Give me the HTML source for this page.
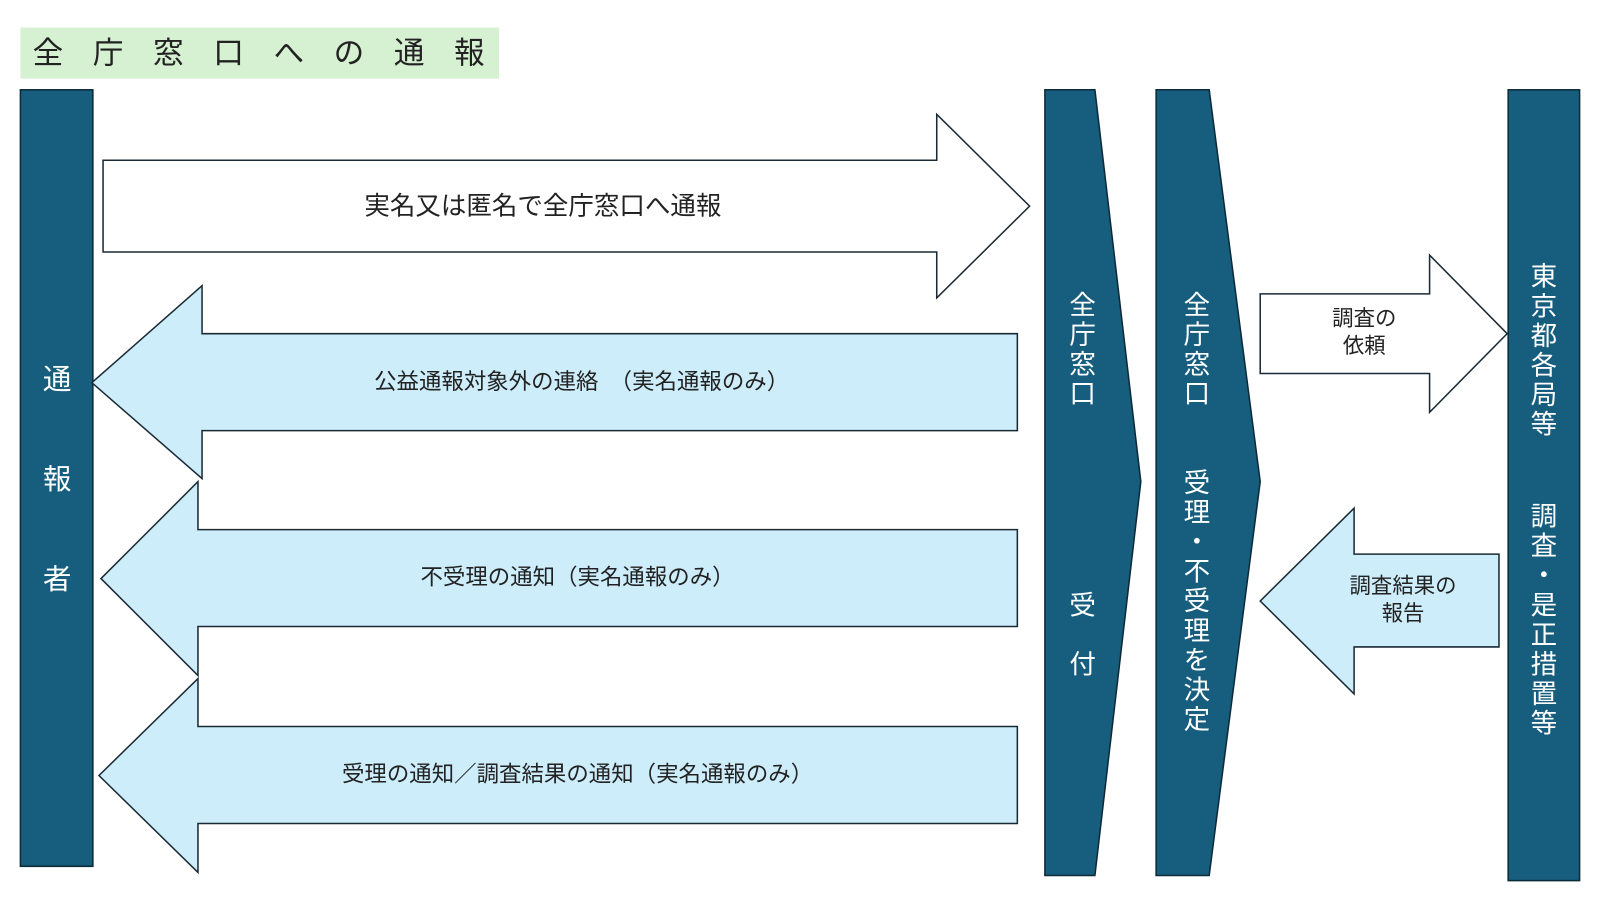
<!DOCTYPE html>
<html><head><meta charset="utf-8"><style>
html,body{margin:0;padding:0;background:#fff;}
svg{display:block;}
svg text{font-family:"Liberation Sans","Noto Sans CJK JP",sans-serif;}
</style></head><body>
<svg width="1600" height="900" viewBox="0 0 1568 882" xmlns="http://www.w3.org/2000/svg">
<rect x="20" y="27" width="469" height="50" fill="#d6f0d2"/>
<text x="32" y="62" font-size="30" fill="#222" letter-spacing="29">全庁窓口への通報</text>

<g fill="#175e7e" stroke="#0d2a38" stroke-width="1.5">
<rect x="20" y="88" width="71" height="761"/>
<polygon points="1024,88 1073,88 1118,472 1073,858 1024,858"/>
<polygon points="1133,88 1185,88 1235,472 1185,858 1133,858"/>
<rect x="1478" y="88" width="70" height="775"/>
</g>

<g stroke="#1a2a35" stroke-width="1.5">
<polygon fill="#fff" points="101,157 918,157 918,112 1009,202 918,292 918,247 101,247"/>
<polygon fill="#cdedfa" points="90,375 198,280 198,327 997,327 997,422 198,422 198,469"/>
<polygon fill="#cdedfa" points="99,567 194,472 194,519 997,519 997,614 194,614 194,662"/>
<polygon fill="#cdedfa" points="97,760 194,665 194,712 997,712 997,807 194,807 194,855"/>
<polygon fill="#fff" points="1235,288 1401,288 1401,250 1477,327 1401,404 1401,366 1235,366"/>
<polygon fill="#cdedfa" points="1235,589 1327,498 1327,543 1469,543 1469,634 1327,634 1327,680"/>
</g>

<g font-size="22" fill="#222" text-anchor="middle">
<text x="532" y="210" font-size="25">実名又は匿名で全庁窓口へ通報</text>
<text x="570" y="381">公益通報対象外の連絡　（実名通報のみ）</text>
<text x="566" y="573">不受理の通知（実名通報のみ）</text>
<text x="566" y="766">受理の通知／調査結果の通知（実名通報のみ）</text>
<text x="1337" y="319" font-size="21">調査の</text>
<text x="1337" y="346" font-size="21">依頼</text>
<text x="1375" y="581" font-size="21">調査結果の</text>
<text x="1375" y="608" font-size="21">報告</text>
</g>

<g font-size="28" fill="#fff" text-anchor="middle">
<text x="56" y="381">通</text>
<text x="56" y="479">報</text>
<text x="56" y="577">者</text>
</g>

<g font-size="26" fill="#fff" text-anchor="middle">
<text x="1061" y="308">全</text><text x="1061" y="337">庁</text><text x="1061" y="366">窓</text><text x="1061" y="395">口</text>
<text x="1061" y="602">受</text><text x="1061" y="660">付</text>

<text x="1173" y="308">全</text><text x="1173" y="337">庁</text><text x="1173" y="366">窓</text><text x="1173" y="395">口</text>
<text x="1173" y="482">受</text><text x="1173" y="511">理</text><text x="1173" y="540">・</text><text x="1173" y="569">不</text><text x="1173" y="598">受</text><text x="1173" y="627">理</text><text x="1173" y="656">を</text><text x="1173" y="685">決</text><text x="1173" y="714">定</text>

<text x="1513" y="280">東</text><text x="1513" y="309">京</text><text x="1513" y="338">都</text><text x="1513" y="367">各</text><text x="1513" y="396">局</text><text x="1513" y="425">等</text>
<text x="1513" y="515">調</text><text x="1513" y="544">査</text><text x="1513" y="573">・</text><text x="1513" y="602">是</text><text x="1513" y="631">正</text><text x="1513" y="660">措</text><text x="1513" y="689">置</text><text x="1513" y="718">等</text>
</g>
</svg>
</body></html>
